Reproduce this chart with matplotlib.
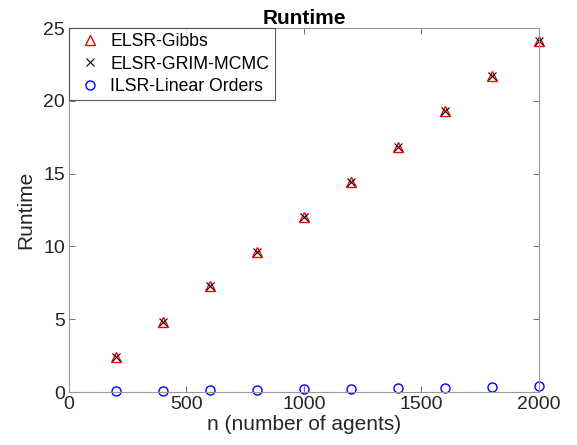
import numpy as np
import matplotlib
matplotlib.use('Agg')
import matplotlib.pyplot as plt

n_agents = [200, 400, 600, 800, 1000, 1200, 1400, 1600, 1800, 2000]
gibbs = [2.42, 4.83, 7.27, 9.62, 12.05, 14.43, 16.85, 19.28, 21.68, 24.12]
grim = [2.42, 4.83, 7.27, 9.62, 12.05, 14.43, 16.85, 19.28, 21.68, 24.12]
ilsr = [0.04, 0.08, 0.12, 0.15, 0.19, 0.23, 0.27, 0.31, 0.35, 0.40]

plt.rcParams['font.family'] = ['Liberation Sans', 'DejaVu Sans']

fig = plt.figure(figsize=(5.77, 4.45), dpi=100)
ax = fig.add_axes([0.1196, 0.119, 0.8144, 0.818])

ax.plot(n_agents, gibbs, '^', mfc='none', mec='#ff0000', ms=6.5, mew=1.0,
        label='ELSR-Gibbs', clip_on=False)
ax.plot(n_agents, grim, 'x', color='#000000', ms=5.5, mew=0.8,
        label='ELSR-GRIM-MCMC', clip_on=False)
ax.plot(n_agents, ilsr, 'o', mfc='none', mec='#0000ff', ms=6.5, mew=1.0,
        label='ILSR-Linear Orders', clip_on=False)

ax.set_xlim(0, 2000)
ax.set_ylim(0, 25)
ax.set_xticks([0, 500, 1000, 1500, 2000])
ax.set_yticks([0, 5, 10, 15, 20, 25])
ax.tick_params(direction='in', length=4, width=0.6, color='#555555',
               labelsize=14, labelcolor='#262626', top=True, right=True,
               labeltop=False, labelright=False, pad=3)
for s in ax.spines.values():
    s.set_color('#999999')
    s.set_linewidth(0.8)

ax.set_xlabel('n (number of agents)', fontsize=15, color='#262626', labelpad=1)
ax.set_ylabel('Runtime', fontsize=15, color='#262626', labelpad=6)
ax.set_title('Runtime', fontsize=15, fontweight='bold', pad=3)

leg = ax.legend(loc='upper left', fontsize=12.7, frameon=True, fancybox=False,
                borderaxespad=0.0, handletextpad=0.25, borderpad=0.3,
                labelspacing=0.3, handlelength=1.8)
leg.get_frame().set_edgecolor('#333333')
leg.get_frame().set_linewidth(0.8)

fig.savefig('out.png', dpi=100)
